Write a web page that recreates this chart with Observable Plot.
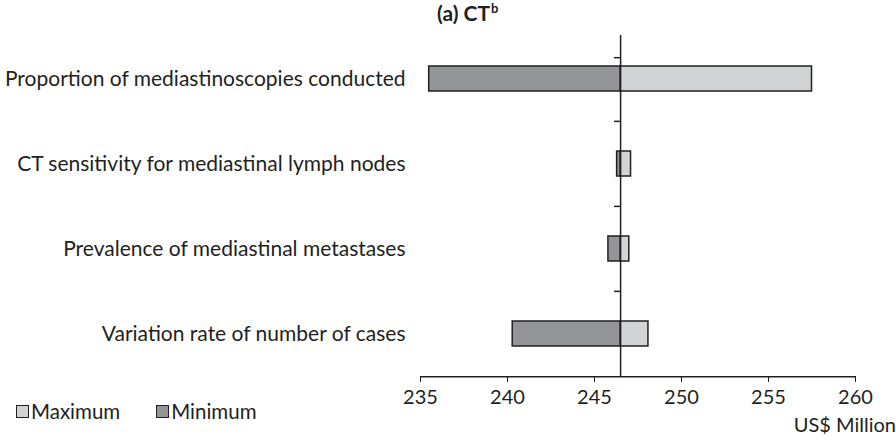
<!DOCTYPE html>
<html>
<head>
<meta charset="utf-8">
<script src="https://cdn.jsdelivr.net/npm/d3@7"></script>
<script src="https://cdn.jsdelivr.net/npm/@observablehq/plot@0.6"></script>
<style>
  html, body { margin: 0; padding: 0; background: #fff; }
  #wrap { position: relative; width: 896px; height: 443px; font-family: Lato, "Noto Sans", sans-serif; color: #231f20; }
  #chart { position: absolute; left: 0; top: 0; }
  .title { position: absolute; left: 437px; top: 0px; font-size: 21px; font-weight: bold; white-space: nowrap; }
  .title sup { font-size: 13px; vertical-align: 8px; margin-left: 1px; }
  .unit { position: absolute; right: 0px; top: 412px; font-size: 20px; white-space: nowrap; }
  .legend { position: absolute; left: 16px; top: 399px; font-size: 20.5px; display: flex; align-items: center; white-space: nowrap; }
  .legend .sw { display: inline-block; width: 11px; height: 11px; border: 1px solid #231f20; margin-right: 2px; }
  .legend .item { display: flex; align-items: center; margin-right: 36px; }
</style>
</head>
<body>
<div id="wrap">
  <div id="chart"></div>
  <div class="title">(a) CT<sup>b</sup></div>
  <div class="legend" id="legend"></div>
  <div class="unit">US$ Million</div>
</div>
<script>
const categories = [
  "Proportion of mediastinoscopies conducted",
  "CT sensitivity for mediastinal lymph nodes",
  "Prevalence of mediastinal metastases",
  "Variation rate of number of cases"
];
const minimum = [235.5, 246.3, 245.8, 240.3];
const maximum = [257.5, 247.1, 247.0, 248.1];
const baseline = 246.5;
const xTicks = [235, 240, 245, 250, 255, 260];
const seriesNames = ["Maximum", "Minimum"];
const seriesColors = ["#d1d3d4", "#939598"];

const rows = categories.map((c, i) => ({category: c, min: minimum[i], max: maximum[i]}));
const ink = "#231f20";
const marginTop = 35, marginBottom = 67, height = 443;
const step = (height - marginTop - marginBottom) / categories.length;

const chart = Plot.plot({
  width: 896,
  height,
  marginLeft: 420,
  marginRight: 41,
  marginTop,
  marginBottom,
  style: {fontFamily: "Lato, 'Noto Sans', sans-serif", fontSize: "20px", color: ink, background: "white"},
  x: {domain: [235, 260], ticks: xTicks, tickSize: 6, tickPadding: 7, label: null},
  y: {domain: categories, padding: 0, tickSize: 0, tickPadding: 15, label: null},
  marks: [
    Plot.barX(rows, {y: "category", x1: baseline, x2: "max", fill: seriesColors[0], stroke: ink, strokeWidth: 1.5, insetTop: 30, insetBottom: 30}),
    Plot.barX(rows, {y: "category", x1: baseline, x2: "min", fill: seriesColors[1], stroke: ink, strokeWidth: 1.5, insetTop: 30, insetBottom: 30}),
    Plot.ruleX([baseline], {stroke: ink, strokeWidth: 1.5}),
    Plot.ruleY(categories.slice(1), {y: d => d, x1: baseline - 0.35, x2: baseline, dy: -step / 2, stroke: ink, strokeWidth: 1.5}),
    Plot.ruleY(categories.slice(0, 1), {y: d => d, x1: baseline - 0.35, x2: baseline, dy: -step / 4, stroke: ink, strokeWidth: 1.5}),
    Plot.ruleY(categories.slice(-1), {y: d => d, x1: 235, x2: 260, dy: step / 2, stroke: ink, strokeWidth: 1.5})
  ]
});
document.getElementById("chart").appendChild(chart);
// enlarge the category labels slightly relative to the x tick labels
chart.querySelectorAll("[aria-label='y-axis tick label'] text, [aria-label='y-axis tick label']").forEach(el => el.setAttribute("font-size", "21"));

const legend = document.getElementById("legend");
seriesNames.forEach((name, i) => {
  const item = document.createElement("span");
  item.className = "item";
  const sw = document.createElement("span");
  sw.className = "sw";
  sw.style.background = seriesColors[i];
  item.appendChild(sw);
  item.appendChild(document.createTextNode(name));
  legend.appendChild(item);
});
</script>
</body>
</html>
